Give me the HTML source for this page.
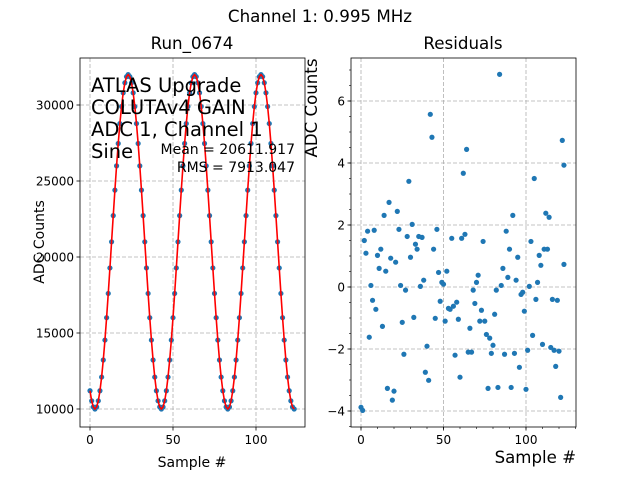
<!DOCTYPE html>
<html><head><meta charset="utf-8"><style>
html,body{margin:0;padding:0;background:#fff;}
svg{display:block;font-family:"DejaVu Sans","Liberation Sans",sans-serif;}
</style></head><body>
<svg id="fig" width="640" height="480" viewBox="0 0 640 480">
<rect width="640" height="480" fill="#fff"/>
<text x="320" y="22" font-size="16.7" text-anchor="middle">Channel 1: 0.995 MHz</text>
<text x="192" y="49" font-size="16.7" text-anchor="middle">Run_0674</text>
<text x="463" y="49" font-size="16.7" text-anchor="middle">Residuals</text>
<g id="left"></g>
<g id="right"></g>
<g font-size="19.5">
<text x="91" y="92">ATLAS Upgrade</text>
<text x="91" y="114">COLUTAv4 GAIN</text>
<text x="91" y="136">ADC 1, Channel 1</text>
<text x="91" y="158">Sine</text>
</g>
<text x="295" y="154" font-size="14" text-anchor="end">Mean = 20611.917</text>
<text x="295" y="172" font-size="14" text-anchor="end">RMS = 7913.047</text>
<text transform="translate(44,242) rotate(-90)" font-size="14" text-anchor="middle">ADC Counts</text>
<text x="192" y="467" font-size="14" text-anchor="middle">Sample #</text>
<text transform="translate(317,108) rotate(-90)" font-size="16.6" text-anchor="middle">ADC Counts</text>
<text x="576" y="463" font-size="16.6" text-anchor="end">Sample #</text>
</svg>
<script>
const adcValues=[11199,10538,10135,
10000,10135,10538,11199,12101,13222,14534,16006,17601,19279,21000,22721,24399,25994,27466,28778,29899,30801,31462,31865,32000,31865,31462,30801,29899,28778,27466,25994,24399,22721,21000,19279,17601,16006,14534,13222,12101,11199,10538,10135,
10000,10135,10538,11199,12101,13222,14534,16006,17601,19279,21000,22721,24399,25994,27466,28778,29899,30801,31462,31865,32000,31865,31462,30801,29899,28778,27466,25994,24399,22721,21000,19279,17601,16006,14534,13222,12101,11199,10538,10135,
10000,10135,10538,11199,12101,13222,14534,16006,17601,19279,21000,22721,24399,25994,27466,28778,29899,30801,31462,31865,32000,31865,31462,30801,29899,28778,27466,25994,24399,22721,21000,19279,17601,16006,14534,13222,12101,11199,10538,10135,
10000];
const leftXTicks=[0,50,100];
const leftYTicks=[10000,15000,20000,25000,30000];
const resSamples=[84,42,43,64,122,123,62,105,29,17,22,14,92,112,114,31,23,46,4,8,88,28,35,37,63,61,55,2,74,103,33,12,34,44,90,111,113,
3,10,18,21,30,11,15,95,108,109,123,86,47,52,71,89,94,38,49,50,70,107,6,24,36,85,102,27,68,82,97,98,7,48,58,69,106,116,119,9,53,54,56,73,99,45,51,59,32,25,72,75,81,13,66,5,76,78,80,104,110,40,115,117,120,101,26,57,65,67,79,87,93,96,118,39,41,60,16,20,19,77,83,91,100,121,0,1];
const resValues=[6.86,5.57,4.83,4.44,4.73,3.93,3.67,3.5,3.41,2.73,2.44,2.31,2.31,2.38,2.25,2.02,1.86,1.86,1.8,1.83,1.8,1.63,1.63,1.6,1.7,1.57,1.57,1.5,1.47,1.47,1.38,1.22,1.22,1.22,1.22,1.22,1.22,
1.09,1.02,0.93,0.8,0.96,0.6,0.51,0.96,1.02,0.7,0.73,0.6,0.47,0.51,0.38,0.31,0.22,0.22,0.15,0.09,0.15,0.15,0.05,0.05,0.02,0.05,0.02,-0.1,-0.1,-0.1,-0.24,-0.17,-0.43,-0.46,-0.49,-0.53,-0.4,-0.4,-0.43,-0.72,-0.69,-0.72,-0.62,-0.75,-0.78,-1.01,-1.1,-1.04,-0.98,-1.14,-1.1,-1.1,-0.88,-1.27,-1.33,-1.62,-1.53,-1.65,-1.88,-1.56,-1.85,-1.91,-1.95,-2.04,-2.07,-2.04,-2.17,-2.2,-2.1,-2.1,-2.14,-2.17,-2.14,-2.59,-2.56,-2.75,-3.01,-2.91,-3.27,-3.36,-3.65,-3.27,-3.24,-3.24,-3.3,-3.56,-3.88,-3.98];
const rightXTicks=[0,50,100];
const rightYTicks=[-4,-2,0,2,4,6];

const NS='http://www.w3.org/2000/svg';
function mk(parent,tag,attrs){const e=document.createElementNS(NS,tag);for(const k in attrs)e.setAttribute(k,attrs[k]);parent.appendChild(e);return e;}

// left axes
const L={x0:80,x1:305,y0:58,y1:427};
const lx=v=>90+(v-0)*(256-90)/100;
const ly=v=>409-(v-10000)*(409-105)/20000;
const gl=document.getElementById('left');
leftXTicks.forEach(t=>{const e=mk(gl,'line',{x1:lx(t),x2:lx(t),y1:L.y0,y2:L.y1,stroke:'#b0b0b0','stroke-dasharray':'4,2','stroke-width':0.8});


const tk=mk(gl,'line',{x1:lx(t),x2:lx(t),y1:L.y1,y2:L.y1+3.5,stroke:'#000','stroke-width':0.8});


const tx=mk(gl,'text',{x:lx(t),y:L.y1+17,'font-size':12,'text-anchor':'middle'});tx.textContent=t;

});
leftYTicks.forEach(t=>{const e=mk(gl,'line',{x1:L.x0,x2:L.x1,y1:ly(t),y2:ly(t),stroke:'#b0b0b0','stroke-dasharray':'4,2','stroke-width':0.8});


const tk=mk(gl,'line',{x1:L.x0-3.5,x2:L.x0,y1:ly(t),y2:ly(t),stroke:'#000','stroke-width':0.8});


const tx=mk(gl,'text',{x:L.x0-6,y:ly(t)+4.3,'font-size':12,'text-anchor':'end'});tx.textContent=t;

});
adcValues.forEach((v,i)=>{const c=mk(gl,'circle',{cx:lx(i),cy:ly(v),r:2.6,fill:'#1f77b4'});

});
const fit=mk(gl,'polyline',{points:adcValues.map((v,i)=>lx(i)+','+ly(v)).join(' '),fill:'none',stroke:'#ff0000','stroke-width':1.6});


const lf=mk(gl,'rect',{x:L.x0,y:L.y0,width:L.x1-L.x0,height:L.y1-L.y0,fill:'none',stroke:'#000','stroke-width':0.8});



// right axes
const R={x0:351,x1:576,y0:58,y1:427};
const rx=v=>361+(v-0)*(526-361)/100;
const ry=v=>287-v*31;
const gr=document.getElementById('right');
rightXTicks.forEach(t=>{const e=mk(gr,'line',{x1:rx(t),x2:rx(t),y1:R.y0,y2:R.y1,stroke:'#b0b0b0','stroke-dasharray':'4,2','stroke-width':0.8});


const tk=mk(gr,'line',{x1:rx(t),x2:rx(t),y1:R.y1,y2:R.y1+3.5,stroke:'#000','stroke-width':0.8});


const tx=mk(gr,'text',{x:rx(t),y:R.y1+17,'font-size':12,'text-anchor':'middle'});tx.textContent=t;

});
for(let m=0;m<=130;m+=10){const tk=mk(gr,'line',{x1:rx(m),x2:rx(m),y1:R.y1,y2:R.y1+2,stroke:'#000','stroke-width':0.6});

}
for(let m=-4.5;m<=7;m+=0.5){const tk=mk(gr,'line',{x1:R.x0-2,x2:R.x0,y1:ry(m),y2:ry(m),stroke:'#000','stroke-width':0.6});

}
rightYTicks.forEach(t=>{const e=mk(gr,'line',{x1:R.x0,x2:R.x1,y1:ry(t),y2:ry(t),stroke:'#b0b0b0','stroke-dasharray':'4,2','stroke-width':0.8});


const tk=mk(gr,'line',{x1:R.x0-3.5,x2:R.x0,y1:ry(t),y2:ry(t),stroke:'#000','stroke-width':0.8});


const tx=mk(gr,'text',{x:R.x0-6,y:ry(t)+4.3,'font-size':12,'text-anchor':'end'});tx.textContent=(t<0?'\u2212'+(-t):t);

});
resValues.forEach((v,i)=>{const c=mk(gr,'circle',{cx:rx(resSamples[i]),cy:ry(v),r:2.6,fill:'#1f77b4'});

});
const rf=mk(gr,'rect',{x:R.x0,y:R.y0,width:R.x1-R.x0,height:R.y1-R.y0,fill:'none',stroke:'#000','stroke-width':0.8});


</script>
</body></html>
